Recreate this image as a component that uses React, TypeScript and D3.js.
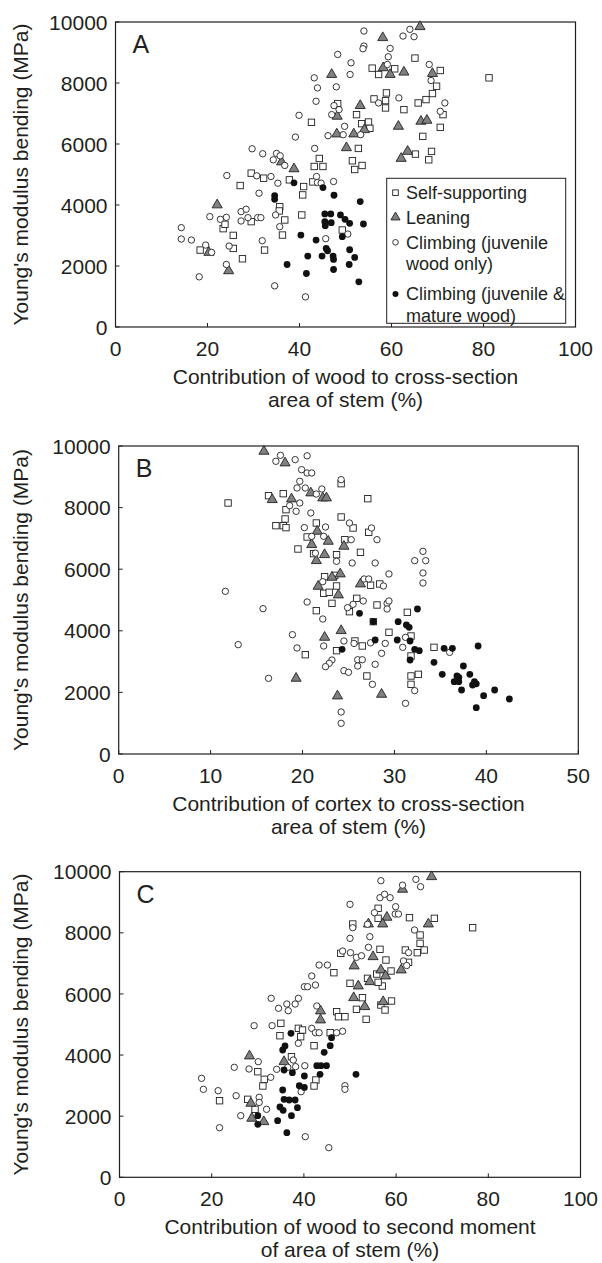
import React, { useEffect, useRef } from 'react';
import * as d3 from 'd3';

// Young's modulus in bending (MPa) against stem composition, 3 panels x 4 growth forms.
// every point is [x %, modulus MPa]

// A: contribution of wood to cross-section area
const aSelf = [[18.4,2522],[23.4,3224],[23.8,3366],[25.6,3004],[25.6,2577],[27.6,2237],[27.1,4638],[29.5,5044],[29.5,3454],[32.2,4879],[32.4,2522],[35.7,3947],[35.6,3805],[36.8,3509],[36.3,3015],[37.8,4825],[40.5,3673],[40.9,4605],[40.7,4331],[42.6,6711],[44.3,5526],[43.2,5263],[45.1,5263],[42.9,4757],[48.3,7325],[52.4,6963],[53.5,6667],[55.0,6721],[55.3,6513],[52.8,5855],[51.5,5450],[52.0,5164],[53.6,5296],[49.3,3180],[55.8,8487],[57.2,8279],[58.9,7675],[56.2,7478],[58.7,7423],[58.7,7182],[60.7,8465],[62.7,7127],[65.1,8816],[65.8,7346],[66.8,6250],[67.5,7456],[68.9,7654],[69.8,7895],[70.6,8410],[71.2,6963],[70.6,6546],[65.2,5669],[68.7,5757],[68.1,5482],[81.2,8169]];
const aLean = [[22.1,4002],[20.3,2445],[24.6,1842],[36.1,5411],[38.8,5186],[47.0,8279],[48.2,6908],[48.1,6327],[50.2,5877],[51.8,6327],[53.2,7259],[54.1,6469],[58.1,9485],[58.2,8498],[59.7,8279],[62.7,8355],[66.2,9846],[61.5,6579],[63.5,5757],[62.1,5526],[66.4,6743],[67.7,6776],[68.9,8311]];
const aJuv = [[14.3,3257],[14.3,2884],[16.5,2851],[19.6,2686],[20.9,2445],[18.2,1645],[20.5,3618],[22.8,3530],[24.1,3596],[24.2,4967],[24.7,2654],[24.1,2050],[27.3,3783],[28.4,3860],[27.3,3476],[28.8,3585],[30.9,3585],[31.6,3585],[29.7,5844],[32.0,5680],[30.7,4956],[33.8,4934],[31.2,4386],[31.9,2829],[34.3,5482],[35.0,5691],[35.8,5614],[36.8,5296],[35.3,4715],[34.8,3673],[35.7,3289],[34.6,1349],[39.1,6228],[39.9,6941],[41.3,987],[43.2,8169],[43.9,7840],[43.6,7401],[43.3,5855],[43.7,4934],[43.9,4737],[44.7,4715],[47.4,4770],[48.3,8936],[48.0,7873],[47.5,7259],[47.0,6963],[48.6,7127],[46.2,6272],[49.8,6579],[49.5,6305],[51.0,8279],[51.2,8662],[54.0,9704],[54.0,9211],[53.8,9123],[53.3,6305],[45.7,2895],[50.5,3048],[59.7,9134],[59.3,8860],[59.1,8608],[57.2,7346],[61.6,7511],[62.5,9539],[64.0,9759],[64.9,9518],[68.2,8608],[68.6,8081],[71.6,7346],[70.6,7072]];
const aMat = [[34.6,4309],[34.6,4189],[38.8,4726],[45.1,4572],[47.5,4320],[53.2,4112],[45.5,3706],[46.8,3706],[48.9,3673],[45.5,3454],[46.9,3421],[49.9,3531],[50.9,3399],[53.9,3377],[45.6,3322],[40.3,3015],[43.6,2851],[49.3,2961],[45.8,2577],[46.1,2500],[50.9,2533],[41.8,2325],[44.9,2325],[47.3,2325],[47.4,2215],[52.0,2281],[37.3,2050],[50.8,2050],[47.4,1886],[41.5,1754],[52.9,1480]];

// B: contribution of cortex to cross-section area
const bSelf = [[16.3,8388],[17.9,8453],[18.2,7933],[11.9,8150],[18.1,7630],[17.1,7414],[17.9,7414],[18.2,7350],[20.5,7046],[21.5,7500],[19.5,6656],[21.2,6505],[21.5,4654],[20.3,3225],[22.4,5758],[23.5,5800],[22.3,5217],[22.9,5250],[23.7,5455],[23.2,4892],[27.4,5480],[28.4,5520],[25.9,5054],[25.1,4621],[27.7,4297],[28.1,4838],[23.7,3355],[25.7,3669],[26.5,3507],[29.4,3950],[27.0,2533],[31.4,4600],[31.8,3831],[31.8,3182],[31.8,2533],[32.6,2587],[31.8,2262],[34.3,3463],[24.2,8777],[27.1,8290],[24.2,7695],[25.5,7338],[27.2,7198],[24.6,6959],[26.3,6548],[23.7,6472]];
const bLean = [[15.8,9827],[18.1,9449],[16.7,8258],[18.8,8280],[20.9,8475],[21.0,6797],[21.5,6277],[21.7,5444],[19.3,2457],[23.2,5736],[24.1,5845],[23.9,5163],[26.3,5520],[24.2,4004],[22.4,3788],[23.8,1883],[28.6,1937],[22.2,8312],[22.6,8312],[21.6,7230],[22.8,6905],[24.5,6743],[22.4,6472]];
const bJuv = [[17.6,9697],[17.1,9503],[19.2,9557],[20.5,9681],[19.9,9232],[20.5,9124],[21.0,9124],[19.7,8853],[19.4,8637],[20.3,8637],[19.7,8150],[18.6,8063],[19.3,7880],[20.9,7825],[20.2,7350],[11.6,5282],[20.5,4935],[15.7,4719],[18.9,3874],[13.0,3550],[19.4,3442],[16.3,2457],[22.2,4383],[22.2,5595],[26.7,5682],[27.2,5682],[28.8,5455],[29.4,5845],[24.9,4751],[25.5,4860],[26.6,4968],[29.2,4892],[29.4,4968],[29.2,4708],[22.3,3507],[24.5,3669],[25.6,3590],[27.4,3610],[29.0,3590],[28.6,3269],[23.2,3052],[22.9,2944],[22.5,2836],[26.0,3060],[26.5,3060],[26.0,2857],[24.5,2706],[25.0,2652],[27.9,2911],[27.6,2262],[24.2,1364],[24.2,996],[31.2,3788],[30.9,3463],[36.0,3301],[32.2,2057],[31.2,1645],[24.2,8907],[22.1,8604],[21.5,8440],[25.1,7500],[27.5,7338],[28.1,6959],[22.5,7370],[21.0,7067],[22.3,7067],[25.3,6959],[21.4,6520],[23.7,6256],[25.4,6202],[27.9,6202],[33.1,6580],[32.2,6277],[33.4,6277],[33.1,5877],[33.1,5552]];
const bMat = [[26.2,4567],[27.7,4297],[30.4,4297],[24.3,3398],[27.9,3702],[30.3,3702],[32.5,4708],[31.3,4189],[31.6,4113],[31.7,3669],[32.2,3398],[32.7,3355],[31.7,3052],[35.4,3431],[36.3,3431],[39.1,3507],[34.3,2976],[37.5,2857],[35.2,2587],[36.8,2533],[37.0,2490],[38.2,2587],[36.5,2348],[37.0,2348],[38.7,2348],[38.9,2280],[38.5,2240],[37.3,2078],[39.7,1894],[40.9,2078],[42.5,1786],[38.9,1504]];

// C: contribution of wood to second moment of area
const cSelf = [[56.1,8802],[56.1,8474],[50.6,8288],[56.5,7460],[48.0,7329],[46.5,6695],[50.0,6348],[53.8,6511],[55.8,6650],[57.0,6259],[52.7,5877],[51.4,5497],[53.5,5170],[47.1,5418],[47.5,5255],[48.9,5255],[35.0,5039],[34.8,4633],[38.8,4875],[39.7,4820],[39.3,4600],[45.7,4731],[42.2,4306],[30.0,3455],[31.4,3206],[31.1,2988],[37.3,3946],[42.6,3184],[42.2,2988],[21.7,2506],[27.8,2552],[29.4,2225],[62.9,8496],[68.3,8474],[76.6,8167],[65.2,7928],[65.2,7656],[62.0,7437],[64.6,7350],[66.1,7437],[57.8,7110],[62.7,7035],[58.9,6750],[56.1,6380],[59.0,5769],[56.7,5637],[57.6,5474]];
const cLean = [[54.0,8288],[55.0,7218],[50.9,6914],[56.7,6783],[51.8,6259],[54.3,6400],[50.8,5877],[53.2,5583],[43.6,5442],[43.6,5147],[28.2,3969],[35.7,3783],[28.5,2421],[28.7,1930],[31.3,1819],[67.7,9836],[61.4,9423],[58.0,8507],[57.1,8288],[67.0,8288],[61.1,6783],[57.7,6587],[57.2,5746]];
const cJuv = [[56.7,9705],[56.5,9149],[57.5,9260],[58.7,9149],[55.3,8658],[50.0,8932],[50.6,8167],[53.8,8278],[50.0,7820],[54.3,7873],[54.0,7526],[48.4,7404],[50.1,7349],[51.4,7198],[52.5,7250],[43.3,6946],[45.1,6946],[41.7,6587],[40.1,6236],[40.8,6236],[42.5,6292],[32.9,5857],[34.5,5530],[36.6,5451],[36.3,5670],[38.1,5670],[38.8,5857],[42.8,5605],[29.2,4961],[33.1,4961],[38.8,4384],[37.7,3838],[41.7,4875],[42.5,4731],[43.3,4731],[47.1,4731],[48.4,4780],[24.9,3599],[28.1,3544],[30.1,3783],[32.8,3272],[34.1,3534],[36.5,3599],[38.2,3620],[40.2,3650],[39.4,2801],[48.9,2997],[48.9,2879],[17.8,3239],[18.2,2879],[21.4,2834],[25.3,2670],[26.3,2016],[21.7,1623],[31.9,2225],[30.3,2618],[30.3,2450],[40.3,1329],[45.4,969],[64.3,9750],[65.3,9509],[61.4,9560],[59.9,8854],[59.8,8615],[60.5,8615],[64.0,8092],[62.7,7350],[61.6,7080],[62.3,6930]];
const cMat = [[37.2,4712],[46.0,4568],[45.7,4306],[35.9,4296],[35.4,4165],[44.4,4090],[35.7,3511],[37.5,3423],[42.8,3652],[43.7,3652],[44.9,3652],[43.5,3370],[40.1,3315],[51.3,3370],[39.0,2997],[40.1,2940],[35.4,2857],[35.7,2552],[36.8,2530],[38.1,2530],[38.6,2277],[34.8,2300],[35.5,2190],[37.3,2016],[34.3,1852],[36.3,1459],[30.0,2016],[30.0,1734]];

const yTicks = [0, 2000, 4000, 6000, 8000, 10000];
const xTicksWood = [0, 20, 40, 60, 80, 100];
const xTicksCortex = [0, 10, 20, 30, 40, 50];
const legendLabels = [['Self-supporting'], ['Leaning'], ['Climbing (juvenile', 'wood only)'], ['Climbing (juvenile &', 'mature wood)']];

const FONT = "'Liberation Sans', Arial, Helvetica, sans-serif";
const INK = '#231f20';
const GREY = '#808080';

const panels = [
  { id: 'A', left: 115.5, top: 22, w: 460, h: 305, xMax: 100, xTicks: xTicksWood, title: ['Contribution of wood to cross-section', 'area of stem (%)'], data: [aSelf, aLean, aJuv, aMat], legend: true },
  { id: 'B', left: 118.7, top: 446, w: 459.6, h: 308, xMax: 50, xTicks: xTicksCortex, title: ['Contribution of cortex to cross-section', 'area of stem (%)'], data: [bSelf, bLean, bJuv, bMat] },
  { id: 'C', left: 119.5, top: 871.7, w: 461, h: 305.6, xMax: 100, xTicks: xTicksWood, title: ['Contribution of wood to second moment', 'of area of stem (%)'], data: [cSelf, cLean, cJuv, cMat] },
];

const tri = d3.symbol().type(d3.symbolTriangle).size(44);
const triSmall = d3.symbol().type(d3.symbolTriangle).size(36);

function marks(g, kind, pts, x, y, small = false) {
  if (kind === 0) {
    const s = small ? 5.6 : 6.4;
    g.selectAll(null).data(pts).enter().append('rect')
      .attr('x', d => x(d[0]) - s / 2).attr('y', d => y(d[1]) - s / 2).attr('width', s).attr('height', s)
      .attr('fill', '#fff').attr('stroke', INK).attr('stroke-width', 0.9);
  } else if (kind === 1) {
    g.selectAll(null).data(pts).enter().append('path')
      .attr('d', small ? triSmall() : tri())
      .attr('transform', d => `translate(${x(d[0])},${y(d[1])})`)
      .attr('fill', GREY).attr('stroke', INK).attr('stroke-width', 0.9);
  } else if (kind === 2) {
    g.selectAll(null).data(pts).enter().append('circle')
      .attr('cx', d => x(d[0])).attr('cy', d => y(d[1])).attr('r', small ? 2.8 : 3.2)
      .attr('fill', '#fff').attr('stroke', INK).attr('stroke-width', 0.9);
  } else {
    g.selectAll(null).data(pts).enter().append('circle')
      .attr('cx', d => x(d[0])).attr('cy', d => y(d[1])).attr('r', small ? 3 : 3.4)
      .attr('fill', '#111');
  }
}

function drawPanel(svg, p) {
  const g = svg.append('g').attr('font-family', FONT).attr('fill', INK);
  const x = d3.scaleLinear().domain([0, p.xMax]).range([p.left, p.left + p.w]);
  const y = d3.scaleLinear().domain([0, 10000]).range([p.top + p.h, p.top]);
  const bottom = p.top + p.h;

  g.append('rect').attr('x', p.left).attr('y', p.top).attr('width', p.w).attr('height', p.h)
    .attr('fill', 'none').attr('stroke', INK).attr('stroke-width', 1.2);

  g.selectAll(null).data(yTicks).enter().append('line')
    .attr('x1', p.left).attr('x2', p.left + 4).attr('y1', d => y(d)).attr('y2', d => y(d))
    .attr('stroke', INK).attr('stroke-width', 1);
  g.selectAll(null).data(p.xTicks).enter().append('line')
    .attr('x1', d => x(d)).attr('x2', d => x(d)).attr('y1', bottom).attr('y2', bottom - 4)
    .attr('stroke', INK).attr('stroke-width', 1);

  g.selectAll(null).data(yTicks).enter().append('text')
    .attr('x', p.left - 8).attr('y', d => y(d)).attr('dy', '0.36em')
    .attr('text-anchor', 'end').attr('font-size', 21).text(d => d);
  g.selectAll(null).data(p.xTicks).enter().append('text')
    .attr('x', d => x(d)).attr('y', bottom + 29)
    .attr('text-anchor', 'middle').attr('font-size', 21).text(d => d);

  const cx = p.left + p.w / 2;
  p.title.forEach((t, i) => {
    g.append('text').attr('x', cx).attr('y', bottom + 57 + i * 23)
      .attr('text-anchor', 'middle').attr('font-size', 21).text(t);
  });
  g.append('text')
    .attr('transform', `translate(28,${p.top + p.h / 2}) rotate(-90)`)
    .attr('text-anchor', 'middle').attr('font-size', 21)
    .text("Young's modulus bending (MPa)");

  g.append('text').attr('x', p.left + 17).attr('y', p.top + 31).attr('font-size', 25).text(p.id);

  const dots = g.append('g');
  p.data.forEach((pts, k) => marks(dots, k, pts, x, y));

  if (p.legend) {
    const lg = g.append('g');
    lg.append('rect').attr('x', 386.7).attr('y', 178.3).attr('width', 179).attr('height', 145)
      .attr('fill', '#fff').attr('stroke', INK).attr('stroke-width', 1);
    const rows = [192.7, 217.3, 242.3, 294];
    legendLabels.forEach((lines, k) => {
      marks(lg, k, [[0, 0]], () => 395.5, () => rows[k], true);
      lines.forEach((t, j) => {
        lg.append('text').attr('x', 406).attr('y', rows[k] + j * 21.7).attr('dy', '0.35em')
          .attr('font-size', 18).text(t);
      });
    });
  }
}

export default function App() {
  const svgRef = useRef(null);

  useEffect(() => {
    const svg = d3.select(svgRef.current);
    svg.selectAll('*').remove();
    panels.forEach(p => drawPanel(svg, p));
  }, []);

  return (
    <svg ref={svgRef} width={602} height={1263} viewBox="0 0 602 1263"
      style={{ position: 'absolute', left: 0, top: 0, background: '#fff', display: 'block' }} />
  );
}
